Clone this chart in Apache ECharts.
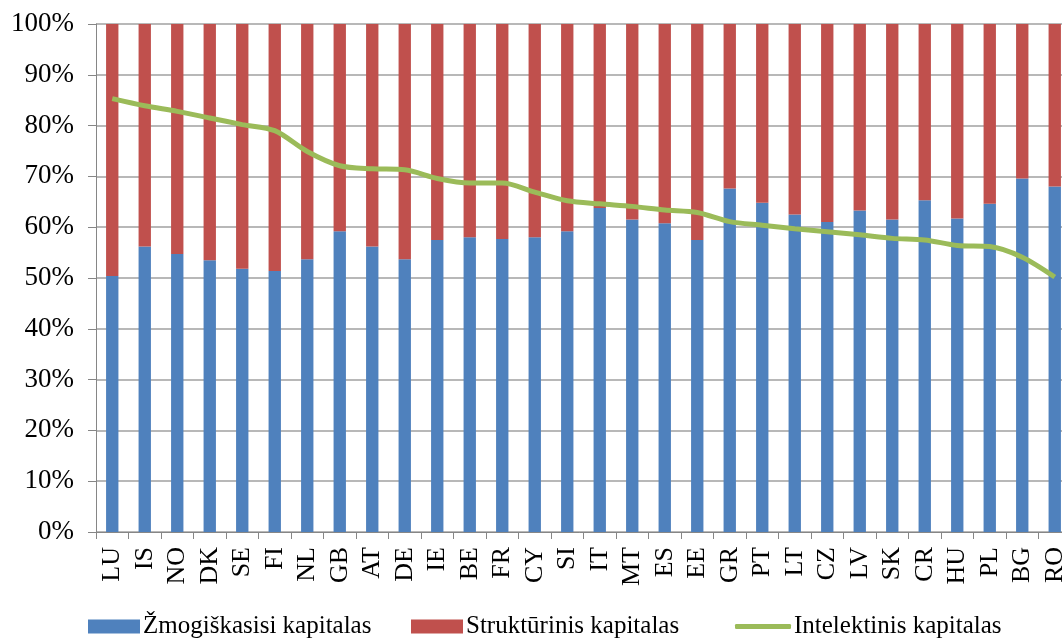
<!DOCTYPE html>
<html>
<head>
<meta charset="utf-8">
<script src="https://cdn.jsdelivr.net/npm/echarts@6/dist/echarts.min.js"></script>
<style>
  html, body { margin: 0; padding: 0; background: #fff; }
  #chart { width: 1062px; height: 640px; }
</style>
</head>
<body>
<div id="chart"></div>
<script>
// Country codes along the x axis
const countries = ['LU','IS','NO','DK','SE','FI','NL','GB','AT','DE','IE','BE','FR','CY','SI',
                   'IT','MT','ES','EE','GR','PT','LT','CZ','LV','SK','CR','HU','PL','BG','RO'];

// Share of human capital (%)
const zmogiskasis = [50.4, 56.2, 54.7, 53.5, 51.8, 51.4, 53.7, 59.2, 56.2, 53.7, 57.5, 58.0, 57.7, 58.0, 59.2,
                     63.8, 61.5, 60.8, 57.5, 67.6, 64.8, 62.5, 61.0, 63.3, 61.5, 65.3, 61.7, 64.6, 69.6, 68.0];

// Share of structural capital (%), the rest of each 100% bar
const strukturinis = [49.6, 43.8, 45.3, 46.5, 48.2, 48.6, 46.3, 40.8, 43.8, 46.3, 42.5, 42.0, 42.3, 42.0, 40.8,
                      36.2, 38.5, 39.2, 42.5, 32.4, 35.2, 37.5, 39.0, 36.7, 38.5, 34.7, 38.3, 35.4, 30.4, 32.0];

// Intellectual capital index (%)
const intelektinis = [85.3, 83.9, 82.8, 81.5, 80.2, 79.0, 74.9, 72.1, 71.5, 71.3, 69.6, 68.7, 68.7, 66.9, 65.2,
                      64.6, 64.1, 63.4, 62.9, 61.1, 60.4, 59.7, 59.1, 58.5, 57.8, 57.5, 56.4, 56.2, 54.1, 50.2];

// Y axis tick values
const yMin = 0, yMax = 100, yStep = 10;

const serif = '"Liberation Serif", "DejaVu Serif", serif';
const names = ['Žmogiškasisi kapitalas', 'Struktūrinis kapitalas', 'Intelektinis kapitalas'];

const chart = echarts.init(document.getElementById('chart'), null, { renderer: 'canvas' });

function legendFor(item, left, iconW, iconH, top) {
  return {
    data: [item],
    left: left,
    top: top,
    itemWidth: iconW,
    itemHeight: iconH,
    itemGap: 0,
    padding: 0,
    textStyle: { fontFamily: serif, fontSize: 25, color: '#000', padding: [0, 0, 0, -2] },
    selectedMode: false
  };
}

chart.setOption({
  animation: false,
  backgroundColor: '#ffffff',
  grid: { left: 96, right: -9, top: 24, bottom: 108, containLabel: false, outerBoundsMode: 'none' },
  legend: [
    legendFor({ name: names[0], icon: 'rect' }, 88, 52, 14, 614),
    legendFor({ name: names[1], icon: 'rect' }, 411, 52, 14, 614),
    legendFor({ name: names[2], icon: 'roundRect', itemStyle: { color: '#9bbb59' } }, 735, 56, 5, 614)
  ],
  xAxis: {
    type: 'category',
    data: countries,
    boundaryGap: true,
    axisLine: { show: true, lineStyle: { color: '#868686', width: 1 } },
    axisTick: { show: true, alignWithLabel: false, length: 7, lineStyle: { color: '#868686' } },
    axisLabel: {
      rotate: 90,
      margin: 15,
      fontFamily: serif,
      fontSize: 26,
      color: '#000',
      interval: 0
    }
  },
  yAxis: {
    type: 'value',
    min: yMin,
    max: yMax,
    interval: yStep,
    axisLine: { show: true, lineStyle: { color: '#868686', width: 1 } },
    axisTick: { show: true, length: 8, lineStyle: { color: '#868686' } },
    axisLabel: {
      formatter: '{value}%',
      margin: 22,
      fontFamily: serif,
      fontSize: 27,
      color: '#000'
    },
    splitLine: { show: true, lineStyle: { color: '#a0a0a0', width: 1.5 } }
  },
  series: [
    {
      name: names[0],
      type: 'bar',
      stack: 'share',
      barWidth: '38%',
      itemStyle: { color: '#4f81bd' },
      data: zmogiskasis
    },
    {
      name: names[1],
      type: 'bar',
      stack: 'share',
      barWidth: '38%',
      itemStyle: { color: '#c0504d' },
      data: strukturinis
    },
    {
      name: names[2],
      type: 'line',
      smooth: 0.3,
      symbol: 'none',
      lineStyle: { color: '#9bbb59', width: 5 },
      itemStyle: { color: '#9bbb59' },
      z: 5,
      data: intelektinis
    }
  ]
});
</script>
</body>
</html>
